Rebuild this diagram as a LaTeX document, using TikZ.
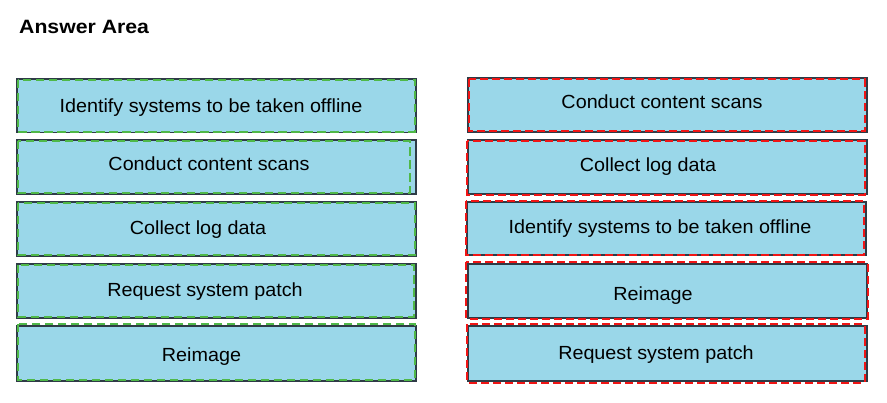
\documentclass[tikz,border=0pt]{standalone}
\usepackage{fontspec}
\setmainfont{Liberation Sans}[FakeStretch=1.04]
\newfontfamily\titlefont{Liberation Sans}[FakeStretch=1.1,BoldFont={Liberation Sans Bold}]
\definecolor{boxfill}{HTML}{9AD7E9}
\definecolor{boxedge}{HTML}{2E3B46}
\definecolor{gdash}{HTML}{4FB848}
\definecolor{rdash}{HTML}{F01515}
\tikzset{
  ansbox/.style={draw=boxedge, line width=1.1bp, fill=boxfill, rectangle, minimum width=399bp, inner sep=0pt},
  greendash/.style={draw=gdash, line width=2bp, dash pattern=on 8.5bp off 4.5bp},
  reddash/.style={draw=rdash, line width=2bp, dash pattern=on 8bp off 4bp},
  boxtext/.style={anchor=base, inner sep=0pt, font=\fontsize{19bp}{23bp}\selectfont, text=black}
}
\begin{document}
\begin{tikzpicture}[x=1bp, y=-1bp]
\useasboundingbox (0,0) rectangle (887,402);
\fill[white] (0,0) rectangle (887,402);
\node[anchor=base west, inner sep=0pt, font=\titlefont\bfseries\fontsize{19.3bp}{23bp}\selectfont] (title) at (19,33) {Answer Area};
% left column
\node[ansbox, minimum height=53.5bp] (L1) at (216.5,105.75) {};
\node[ansbox, minimum height=54bp] (L2) at (216.5,167) {};
\node[ansbox, minimum height=54bp] (L3) at (216.5,229) {};
\node[ansbox, minimum height=54bp] (L4) at (216.5,291) {};
\node[ansbox, minimum height=55bp] (L5) at (216.5,353.5) {};
\draw[greendash] ([shift={(1.5bp,-1.5bp)}]L1.north west) rectangle ([shift={(-1.5bp,1.5bp)}]L1.south east);
\draw[greendash] ([shift={(1.5bp,-1.5bp)}]L2.north west) rectangle ([shift={(-7bp,1.5bp)}]L2.south east);
\draw[greendash] ([shift={(1.5bp,-1.5bp)}]L3.north west) rectangle ([shift={(-1.5bp,1.5bp)}]L3.south east);
\draw[greendash] ([shift={(1.5bp,-1.5bp)}]L4.north west) rectangle ([shift={(-3bp,1.5bp)}]L4.south east);
\draw[greendash] ([shift={(1.5bp,1.5bp)}]L5.north west) rectangle ([shift={(-1.5bp,1.5bp)}]L5.south east);
\node[boxtext] (tL1) at (211,112.7) {Identify systems to be taken offline};
\node[boxtext] (tL2) at (209,170) {Conduct content scans};
\node[boxtext] (tL3) at (198,234) {Collect log data};
\node[boxtext] (tL4) at (205,296.7) {Request system patch};
\node[boxtext] (tL5) at (201.5,361) {Reimage};
% right column
\node[ansbox, minimum height=54bp] (R1) at (667.5,105) {};
\node[ansbox, minimum height=54bp] (R2) at (667.5,167) {};
\node[ansbox, minimum height=53bp] (R3) at (666.5,228.5) {};
\node[ansbox, minimum height=54bp] (R4) at (667.5,291) {};
\node[ansbox, minimum height=55bp] (R5) at (667.5,353.5) {};
\draw[reddash] ([shift={(1.5bp,-1.5bp)}]R1.north west) rectangle ([shift={(-3bp,1.5bp)}]R1.south east);
\draw[reddash] ([shift={(0bp,-1.5bp)}]R2.north west) rectangle ([shift={(-3bp,0bp)}]R2.south east);
\draw[reddash] ([shift={(0bp,0bp)}]R3.north west) rectangle ([shift={(-3bp,1bp)}]R3.south east);
\draw[reddash] ([shift={(-1bp,1bp)}]R4.north west) rectangle ([shift={(0bp,0bp)}]R4.south east);
\draw[reddash] ([shift={(0bp,1bp)}]R5.north west) rectangle ([shift={(-3bp,-1bp)}]R5.south east);
\node[boxtext] (tR1) at (662,108.3) {Conduct content scans};
\node[boxtext] (tR2) at (648,171.7) {Collect log data};
\node[boxtext] (tR3) at (660,233.3) {Identify systems to be taken offline};
\node[boxtext] (tR4) at (653,300) {Reimage};
\node[boxtext] (tR5) at (656,359) {Request system patch};
\end{tikzpicture}
\end{document}
